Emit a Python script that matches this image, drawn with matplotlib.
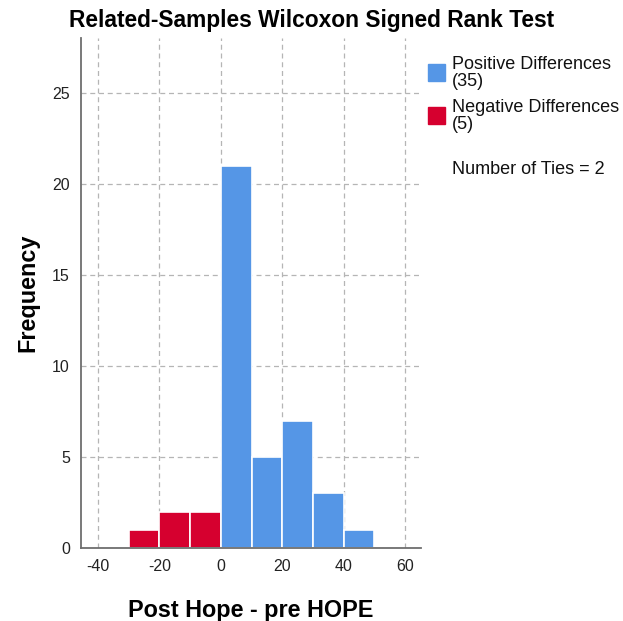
import matplotlib
matplotlib.use("Agg")
import matplotlib.pyplot as plt
from matplotlib.patches import Rectangle

plt.rcParams['font.family'] = ['Liberation Sans', 'DejaVu Sans']
plt.rcParams['axes.unicode_minus'] = False

neg_edges = [-30, -20, -10]
neg_counts = [1, 2, 2]
pos_edges = [0, 10, 20, 30, 40]
pos_counts = [21, 5, 7, 3, 1]
bin_width = 10
xticks = [-40, -20, 0, 20, 40, 60]
yticks = [0, 5, 10, 15, 20, 25]
blue = '#5596e6'
red = '#d6002f'
title = 'Related-Samples Wilcoxon Signed Rank Test'
legend_items = [('Positive Differences\n(35)', blue), ('Negative Differences\n(5)', red)]
ties_text = 'Number of Ties = 2'

fig = plt.figure(figsize=(6.23, 6.21), dpi=100)
ax = fig.add_axes([0.130, 0.1176, 0.546, 0.821])

ax.bar(neg_edges, neg_counts, width=bin_width, align='edge', color=red,
       edgecolor='white', linewidth=1.2, zorder=3)
ax.bar(pos_edges, pos_counts, width=bin_width, align='edge', color=blue,
       edgecolor='white', linewidth=1.2, zorder=3)

ax.set_xlim(-45.5, 65.2)
ax.set_ylim(0, 28)
ax.set_xticks(xticks)
ax.set_yticks(yticks)
ax.tick_params(length=0, labelsize=11.5, pad=8, colors='#222222')
ax.grid(True, linestyle=(0, (4, 3)), color='#b5b5b5', linewidth=0.9, zorder=0)
for s in ['top', 'right']:
    ax.spines[s].set_visible(False)
for s in ['left', 'bottom']:
    ax.spines[s].set_color('#6e6e6e')
    ax.spines[s].set_linewidth(1.3)
    ax.spines[s].set_zorder(4)

fig.text(0.5, 1 - 21 / 621, title, ha='center', va='center', fontsize=16.4, fontweight='bold')
ax.set_xlabel('Post Hope - pre HOPE', fontsize=16.8, fontweight='bold', labelpad=18)
ax.set_ylabel('Frequency', fontsize=16.8, fontweight='bold', labelpad=9)

# legend
for i, (lab, col) in enumerate(legend_items):
    ytop = 56 + i * 43
    fig.patches.append(Rectangle((428 / 623, 1 - (ytop + 25) / 621), 17 / 623, 17 / 621,
                                 transform=fig.transFigure, color=col))
    fig.text(452 / 623, 1 - ytop / 621, lab, ha='left', va='top', fontsize=13,
             linespacing=1.0, color='#111111')
fig.text(452 / 623, 1 - 170 / 621, ties_text, ha='left', va='center', fontsize=13,
         color='#111111')

fig.savefig('out.png', dpi=100)
